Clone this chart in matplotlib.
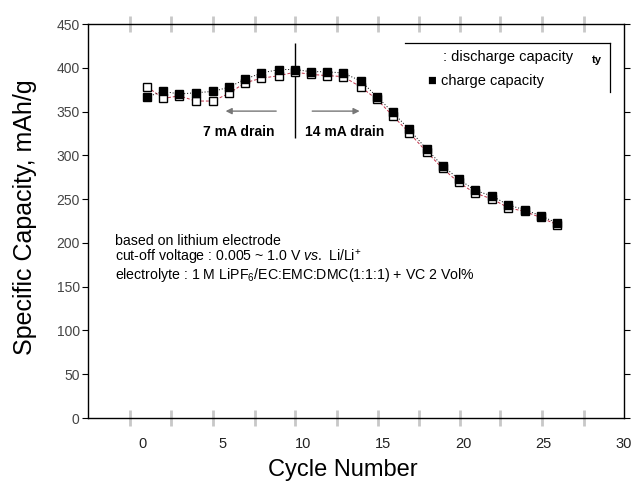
import numpy as np
import matplotlib
matplotlib.use('Agg')
import matplotlib.pyplot as plt
from matplotlib.ticker import FixedLocator

plt.rcParams['font.family'] = ['Liberation Sans', 'DejaVu Sans']
plt.rcParams['mathtext.fontset'] = 'custom'
plt.rcParams['mathtext.rm'] = 'Liberation Sans'
plt.rcParams['mathtext.it'] = 'Liberation Sans:italic'

# cycle positions
cycles = [0.3, 1.3, 2.3, 3.3, 4.4, 5.4, 6.4, 7.4, 8.5, 9.5, 10.5, 11.5, 12.5,
          13.6, 14.6, 15.6, 16.6, 17.7, 18.7, 19.7, 20.7, 21.8, 22.8, 23.8,
          24.8, 25.8]
charge = [367, 373, 370, 371.5, 373, 378, 387, 394, 398, 398, 395.5, 395.5,
          394, 385, 367, 349, 330, 307, 288, 273, 260, 253.5, 243, 238, 231, 223]
discharge = [378, 365, 368, 362, 362, 371, 383, 388, 391, 395, 392.5, 391,
             390, 378, 364, 345, 326, 304, 285, 269, 257, 250, 240, 236, 229, 221]

x_ticks = [0, 5, 10, 15, 20, 25, 30]
y_ticks = [0, 50, 100, 150, 200, 250, 300, 350, 400, 450]
x_marks = [-0.8, 1.8, 4.4, 7.0, 9.5, 12.1, 14.7, 17.2, 19.8, 22.3, 24.9, 27.5]

fig = plt.figure(figsize=(6.43, 4.88), dpi=100)
ax = fig.add_axes([88 / 643, 1 - 418 / 488, (624 - 88) / 643, (418 - 24) / 488])

# data
ax.plot(cycles, discharge, ls=(0, (3, 2)), color='#c03048', lw=0.7,
        marker='s', ms=6, mfc='white', mec='black', mew=1.0, zorder=3)
ax.plot(cycles, charge, ls=(0, (1, 2)), color='black', lw=0.7,
        marker='s', ms=6, mfc='black', mec='black', zorder=4)

ax.set_xlim(-3.4, 30)
ax.set_ylim(0, 450)

# drain annotations
ax.vlines(9.5, 320, 428, color='black', lw=1.0)
ax.annotate('', xy=(5.0, 350.5), xytext=(8.5, 350.5),
            arrowprops=dict(arrowstyle='-|>', color='#777777', lw=1.0,
                            mutation_scale=9))
ax.annotate('', xy=(13.7, 350.5), xytext=(10.4, 350.5),
            arrowprops=dict(arrowstyle='-|>', color='#777777', lw=1.0,
                            mutation_scale=9))
ax.text(5.98, 326.5, '7 mA drain', ha='center', va='center',
        fontsize=10, fontweight='bold')
ax.text(10.1, 326.5, '14 mA drain', ha='left', va='center',
        fontsize=10, fontweight='bold')

# legend (top + right frame only)
ax.plot([16.35, 29.1], [428, 428], color='black', lw=0.9)
ax.plot([29.1, 29.1], [428, 372.5], color='black', lw=0.9)
ax.text(18.75, 412, ': discharge capacity', ha='left', va='center', fontsize=10.5)
ax.text(28.0, 409, 'ty', ha='left', va='center', fontsize=8, fontweight='bold')
ax.text(17.8, 385, '■ charge capacity', ha='left', va='center', fontsize=10.5)

# conditions
ax.text(-1.7, 197.5, 'based on lithium electrode', ha='left', va='baseline',
        fontsize=10.2)
ax.text(-1.7, 178.2, r'cut-off voltage : 0.005 ~ 1.0 V $\it{vs.}$ Li/Li$^{+}$',
        ha='left', va='baseline', fontsize=10.2)
ax.text(-1.7, 158.8, r'electrolyte : 1 M LiPF$_6$/EC:EMC:DMC(1:1:1) + VC 2 Vol%',
        ha='left', va='baseline', fontsize=10.2)

# axes styling
ax.xaxis.set_major_locator(FixedLocator(x_ticks))
ax.xaxis.set_minor_locator(FixedLocator(x_marks))
ax.yaxis.set_major_locator(FixedLocator(y_ticks))
ax.tick_params(axis='x', which='major', length=0, pad=14, labelsize=10.5,
               labelcolor='#222222')
ax.tick_params(axis='x', which='minor', direction='inout', length=12,
               width=2.0, color='#c8c8c8', top=True)
ax.tick_params(axis='y', which='major', direction='out', length=4, width=0.8,
               pad=2, labelsize=10, labelcolor='#444444', right=True)
for t in ax.yaxis.get_ticklines()[1::2]:
    t.set_color('#cccccc')
for sp in ax.spines.values():
    sp.set_linewidth(1.0)

ax.set_xlabel('Cycle Number', fontsize=17)
ax.set_ylabel('Specific Capacity, mAh/g', fontsize=18)
ax.xaxis.set_label_coords(0.476, -0.105)
ax.yaxis.set_label_coords(-0.095, 0.51)

fig.savefig('out.png', dpi=100)
